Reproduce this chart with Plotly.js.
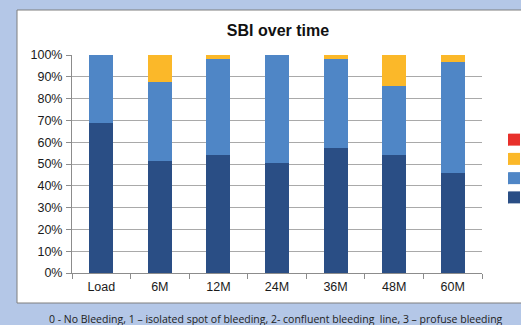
<!DOCTYPE html>
<html>
<head>
<meta charset="utf-8">
<script src="https://cdn.plot.ly/plotly-3.0.1.min.js"></script>
<style>html,body{margin:0;padding:0;background:#b4c7e7;}#chart{width:521px;height:325px;}</style>
</head>
<body>
<div id="chart"></div>
<script>
const categories = ["Load", "6M", "12M", "24M", "36M", "48M", "60M"];
const seriesNames = ["0", "1", "2", "3"];
const score0 = [69, 51.5, 54, 50.5, 57.5, 54, 46];
const score1 = [31, 36, 44, 49.5, 40.5, 32, 51];
const score2 = [0, 12.5, 2, 0, 2, 14, 3];
const score3 = [0, 0, 0, 0, 0, 0, 0];
const colors = ["#2a4e85", "#4f86c6", "#fbb829", "#e8302b"];
const yTicks = [0, 10, 20, 30, 40, 50, 60, 70, 80, 90, 100];
const caption = "0 - No Bleeding, 1 \u2013 isolated spot of bleeding, 2- confluent bleeding  line, 3 \u2013 profuse bleeding";

const values = [score0, score1, score2, score3];
const traces = values.map((v, i) => ({
  type: "bar",
  name: seriesNames[i],
  x: categories,
  y: v,
  marker: { color: colors[i], line: { width: 0 } }
}));

// plot area geometry (px) used only for paper-coordinate decorations
const L = 72, R = 482, T = 55, B = 273;
const px = x => (x - L) / (R - L);
const py = y => (B - y) / (B - T);

const layout = {
  width: 521, height: 325,
  margin: { l: L, r: 521 - R, t: T, b: 325 - B, pad: 0, autoexpand: false },
  paper_bgcolor: "#b4c7e7",
  plot_bgcolor: "rgba(0,0,0,0)",
  barmode: "stack",
  bargap: 0.59,
  font: { family: "Liberation Sans, Arial, sans-serif", size: 12.5, color: "#1a1a1a" },
  title: { text: "<b>SBI over time</b>", font: { size: 16, color: "#111" }, x: px(278), xref: "paper", xanchor: "center", y: 1 - 30 / 325, yref: "container", yanchor: "middle" },
  xaxis: {
    type: "category",
    tickson: "boundaries",
    ticks: "outside", ticklen: 5, tickcolor: "#8c8c8c",
    showline: true, linecolor: "#8c8c8c", linewidth: 1,
    showgrid: false, zeroline: false,
    ticklabelstandoff: 2,
    fixedrange: true
  },
  yaxis: {
    range: [0, 100],
    tickvals: yTicks,
    ticktext: yTicks.map(t => t + "%"),
    ticks: "outside", ticklen: 5, tickcolor: "#8c8c8c",
    showline: true, linecolor: "#8c8c8c", linewidth: 1,
    gridcolor: "#a9a9a9", gridwidth: 1,
    zeroline: false,
    ticklabelstandoff: 1,
    fixedrange: true
  },
  showlegend: true,
  legend: {
    traceorder: "reversed",
    x: px(494), xanchor: "left",
    y: py(168.5), yanchor: "middle",
    bgcolor: "rgba(0,0,0,0)",
    font: { size: 12.5 },
    tracegroupgap: 0
  },
  shapes: [
    { type: "rect", xref: "paper", yref: "paper", layer: "below",
      x0: px(17), x1: px(540), y0: py(303), y1: py(10),
      fillcolor: "#ffffff", line: { color: "#7f7f7f", width: 1 } }
  ],
  annotations: [
    { text: caption, xref: "paper", yref: "paper", x: px(276), y: py(319),
      xanchor: "center", yanchor: "middle", showarrow: false,
      font: { family: "Open Sans, sans-serif", size: 10.5, color: "#222" } }
  ]
};

Plotly.newPlot("chart", traces, layout, { displayModeBar: false, staticPlot: true });
</script>
</body>
</html>
